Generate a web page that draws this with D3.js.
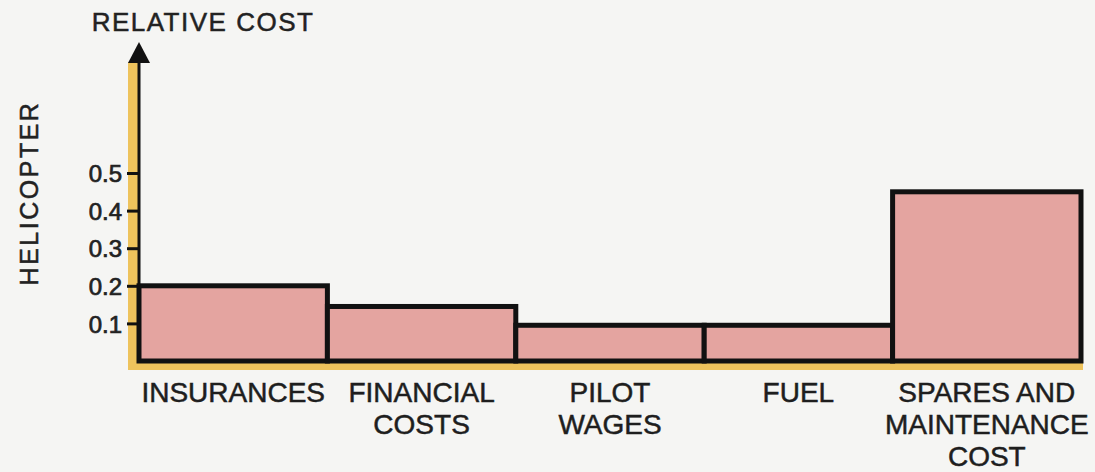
<!DOCTYPE html>
<html>
<head>
<meta charset="utf-8">
<script src="https://cdn.jsdelivr.net/npm/d3@7"></script>
<style>
  body { margin: 0; background: #f5f5f3; }
  svg { display: block; }
  .tick text { font-family: "Liberation Sans", Arial, sans-serif; font-size: 24px; fill: #222; stroke: #222; stroke-width: 0.7px; }
  .cat { font-family: "Liberation Sans", Arial, sans-serif; font-size: 28px; fill: #1e1e1e; stroke: #1e1e1e; stroke-width: 0.5px; }
</style>
</head>
<body>
<div id="chart"></div>
<script>
// data
var categories = ["INSURANCES", "FINANCIAL\nCOSTS", "PILOT\nWAGES", "FUEL", "SPARES AND\nMAINTENANCE\nCOST"];
var costs = [0.2, 0.145, 0.095, 0.095, 0.45];
var tickVals = [0.1, 0.2, 0.3, 0.4, 0.5];

var width = 1095, height = 472;
var x0 = 139, x1 = 1081, yBase = 361;

var svg = d3.select("#chart").append("svg")
  .attr("width", width)
  .attr("height", height);

var x = d3.scaleBand().domain(categories).range([x0, x1]).padding(0);
var y = d3.scaleLinear().domain([0, 0.5]).range([yBase, 173]);

var yellow = "#eec35c";

// yellow band along both axes
svg.append("rect")
  .attr("x", 128).attr("y", 62)
  .attr("width", 10).attr("height", yBase + 9 - 62)
  .attr("fill", yellow);
svg.append("rect")
  .attr("x", 128).attr("y", yBase)
  .attr("width", x1 - 128 + 2).attr("height", 9)
  .attr("fill", yellow);

// bars
svg.append("g").selectAll("rect")
  .data(costs)
  .enter().append("rect")
    .attr("x", function(d, i) { return x(categories[i]); })
    .attr("y", function(d) { return y(d); })
    .attr("width", x.bandwidth())
    .attr("height", function(d) { return y(0) - y(d); })
    .attr("fill", "#e4a4a0")
    .attr("stroke", "#111")
    .attr("stroke-width", 5);

// y axis
var yAxis = d3.axisLeft(y)
  .tickValues(tickVals)
  .tickSize(12)
  .tickPadding(5)
  .tickFormat(d3.format(".1f"));

var ga = svg.append("g")
  .attr("transform", "translate(" + x0 + ",0)")
  .call(yAxis);
ga.select(".domain").remove();
ga.selectAll(".tick line").attr("stroke", "#111").attr("stroke-width", 3);
ga.selectAll(".tick text").attr("dy", "0.36em");

// arrow line + head
svg.append("line")
  .attr("x1", x0).attr("x2", x0)
  .attr("y1", yBase).attr("y2", 60)
  .attr("stroke", "#111").attr("stroke-width", 3);
svg.append("path")
  .attr("d", "M" + (x0 - 11) + ",63 L" + x0 + ",42 L" + (x0 + 11) + ",63 Z")
  .attr("fill", "#111");

// titles
svg.append("text")
  .attr("x", 203).attr("y", 31)
  .attr("text-anchor", "middle")
  .style("font-family", "Liberation Sans, Arial, sans-serif")
  .style("font-size", "26px")
  .style("letter-spacing", "1.5px")
  .attr("fill", "#222")
  .attr("stroke", "#222").attr("stroke-width", 0.5)
  .text("RELATIVE COST");

svg.append("text")
  .attr("transform", "translate(38,193) rotate(-90)")
  .attr("text-anchor", "middle")
  .style("font-family", "Liberation Sans, Arial, sans-serif")
  .style("font-size", "25px")
  .style("letter-spacing", "2.5px")
  .attr("fill", "#222")
  .attr("stroke", "#222").attr("stroke-width", 0.5)
  .text("HELICOPTER");

// category labels
var cat = svg.append("g").selectAll("text")
  .data(categories)
  .enter().append("text")
    .attr("class", "cat")
    .attr("text-anchor", "middle")
    .attr("x", function(d) { return x(d) + x.bandwidth() / 2; })
    .attr("y", 402);

cat.selectAll("tspan")
  .data(function(d) { return d.split("\n"); })
  .enter().append("tspan")
    .attr("x", function() { return this.parentNode.getAttribute("x"); })
    .attr("dy", function(d, i) { return i == 0 ? 0 : 32; })
    .text(function(d) { return d; });
</script>
</body>
</html>
